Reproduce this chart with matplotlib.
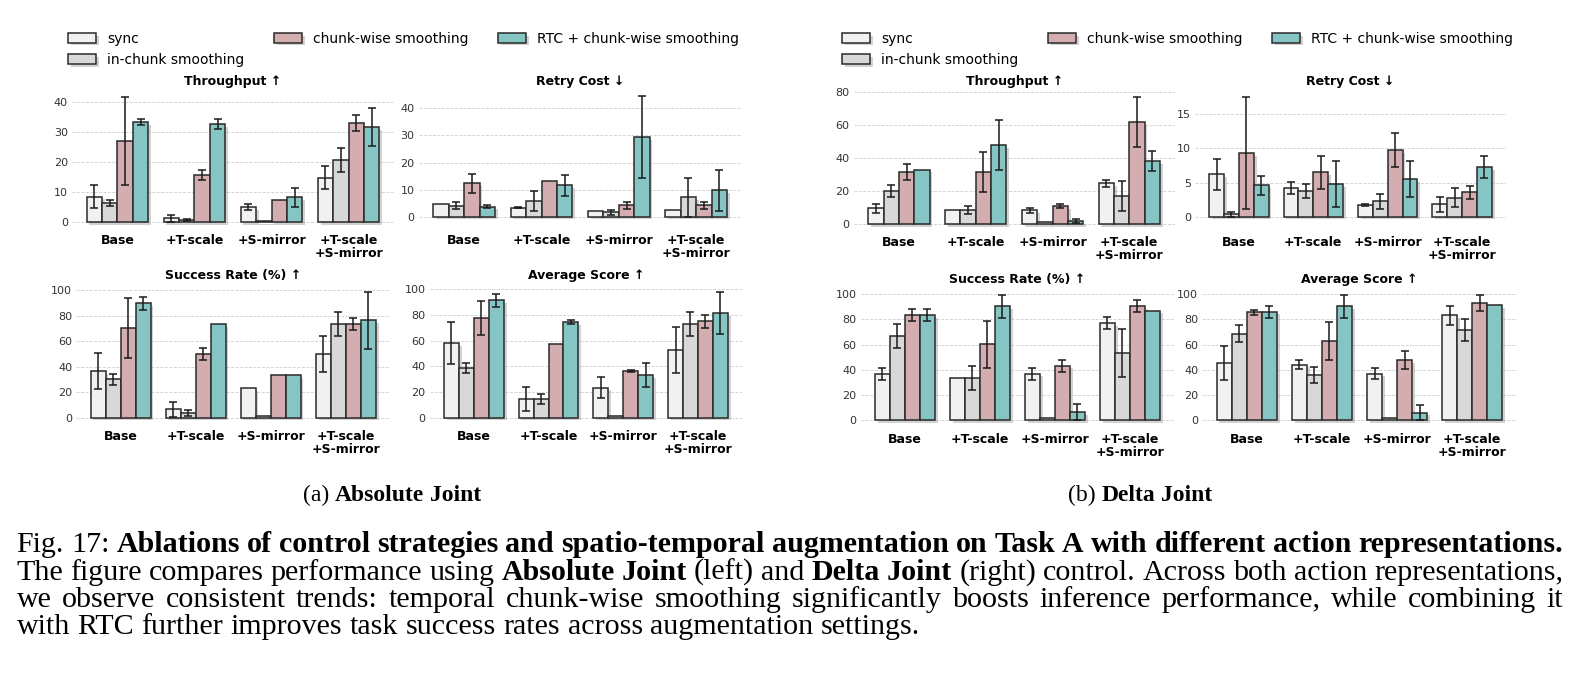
import numpy as np
import matplotlib
matplotlib.use("Agg")
from matplotlib import pyplot as plt
from matplotlib import patheffects as pe
from matplotlib.patches import Patch

W, H = 1574, 683
fig = plt.figure(figsize=(W / 100, H / 100), dpi=100)

groups = ["Base", "+T-scale", "+S-mirror", "+T-scale\n+S-mirror"]
methods = ["sync", "in-chunk smoothing", "chunk-wise smoothing", "RTC + chunk-wise smoothing"]
colors = ["#f1f1f1", "#d8d8d8", "#d3adb0", "#85c5c3"]

# ---- (a) Absolute Joint: rows = methods, cols = groups
abs_thr = [[8.6, 1.3, 5.1, 14.9], [6.6, 0.8, 0.5, 20.8], [27.2, 15.8, 7.6, 33.1], [33.4, 32.8, 8.4, 31.7]]
abs_thr_err = [[3.8, 1.2, 1.0, 3.9], [1.0, 0.4, 0, 3.9], [14.7, 1.8, 0, 2.7], [1.1, 1.6, 3.2, 6.4]]
abs_retry = [[4.6, 3.3, 2.1, 2.5], [4.1, 5.9, 1.7, 7.1], [12.4, 13.0, 4.2, 4.2], [3.7, 11.6, 29.3, 9.7]]
abs_retry_err = [[0, 0.2, 0, 0], [1.2, 3.7, 0.9, 7.1], [3.5, 0, 1.3, 1.3], [0.5, 3.9, 15.1, 7.5]]
abs_succ = [[36.6, 6.8, 23.3, 50.0], [30.1, 3.4, 1.5, 73.3], [70.2, 50.0, 33.3, 73.3], [89.8, 73.3, 33.3, 76.4]]
abs_succ_err = [[14.1, 5.9, 0, 14.1], [4.6, 2.4, 0, 9.5], [23.6, 4.9, 0, 4.7], [4.9, 0, 0, 22.4]]
abs_score = [[58.2, 14.8, 23.4, 53.0], [38.7, 14.8, 1.5, 73.2], [77.7, 57.4, 36.4, 75.1], [91.4, 74.8, 33.2, 81.8]]
abs_score_err = [[16.1, 9.4, 8.4, 18.0], [4.0, 3.9, 0, 9.4], [13.5, 0, 0.8, 4.9], [4.9, 1.7, 9.6, 16.2]]

# ---- (b) Delta Joint
del_thr = [[9.5, 8.3, 8.3, 24.6], [19.8, 8.3, 1.4, 16.9], [31.7, 31.3, 10.9, 61.5], [32.9, 47.8, 1.6, 38.1]]
del_thr_err = [[2.6, 0, 1.5, 2.1], [3.7, 2.3, 0, 8.9], [4.8, 12.0, 1.4, 15.1], [0, 14.9, 1.2, 5.8]]
del_retry = [[6.2, 4.25, 1.7, 1.8], [0.35, 3.8, 2.25, 2.8], [9.3, 6.5, 9.8, 3.6], [4.6, 4.8, 5.5, 7.3]]
del_retry_err = [[2.3, 0.9, 0.2, 1.05], [0.35, 1.0, 1.1, 1.45], [8.2, 2.4, 2.5, 0.95], [1.4, 3.4, 2.6, 1.6]]
del_succ = [[36.9, 33.2, 36.9, 76.8], [66.8, 33.2, 1.6, 53.3], [83.4, 60.2, 43.3, 90.2], [83.4, 90.2, 6.6, 86.8]]
del_succ_err = [[4.7, 0, 4.7, 4.7], [9.5, 9.6, 0, 19.1], [4.7, 18.8, 4.7, 4.7], [4.7, 9.2, 6.0, 0]]
del_score = [[45.4, 44.1, 36.9, 83.1], [68.6, 35.9, 1.6, 71.5], [85.5, 62.8, 47.8, 92.9], [86.0, 90.2, 6.1, 91.0]]
del_score_err = [[13.4, 3.7, 4.2, 7.5], [6.7, 6.0, 0, 8.4], [1.8, 15.0, 7.1, 6.3], [4.7, 9.2, 5.9, 0]]

shadow = [pe.withSimplePatchShadow(offset=(2, -2), shadow_rgbFace="#808080", alpha=0.35)]


def px_axes(left, right, top, bottom):
    return fig.add_axes([left / W, 1 - bottom / H, (right - left) / W, (bottom - top) / H])


def bar_panel(box, zero, scale, yticks, title, title_y, means, errs):
    left, right, top, bottom = box
    ax = px_axes(*box)
    x = np.arange(len(groups))
    w = 0.2
    for i in range(len(methods)):
        pos = x + (i - 1.5) * w
        vals = np.array(means[i])
        e = np.array(errs[i])
        bars = ax.bar(pos, vals, w, color=colors[i], edgecolor="#2a2a2a", linewidth=1.1, zorder=3)
        for b in bars:
            b.set_path_effects(shadow)
        m = e > 0
        ax.errorbar(pos[m], vals[m], yerr=e[m], fmt="none", ecolor="#1a1a1a",
                    elinewidth=1.1, capsize=3, capthick=1.1, zorder=4)
    ax.set_xlim(-0.59, 3.59)
    ax.set_ylim(-(bottom - zero) / scale, (zero - top) / scale)
    ax.set_yticks(yticks)
    ax.set_xticks(x)
    ax.set_xticklabels(groups, fontsize=9, fontweight="bold", linespacing=1.05)
    ax.tick_params(axis="y", length=0, pad=3, labelsize=8, labelcolor="#333333")
    ax.tick_params(axis="x", length=0, pad=4)
    ax.yaxis.grid(True, linestyle="--", color="#d0d0d0", linewidth=0.6)
    ax.set_axisbelow(True)
    for s in ax.spines.values():
        s.set_visible(False)
    fig.text((left + right) / 2 / W, 1 - title_y / H, title, ha="center", va="center",
             fontsize=9, fontweight="bold")
    return ax


# (a)
bar_panel((72, 394, 90, 228), 222.3, 3.0, [0, 10, 20, 30, 40], "Throughput \u2191", 81, abs_thr, abs_thr_err)
bar_panel((418.6, 741.7, 90, 228), 216.7, 2.708, [0, 10, 20, 30, 40], "Retry Cost \u2193", 81, abs_retry, abs_retry_err)
bar_panel((76.4, 390, 286, 424), 417.7, 1.273, [0, 20, 40, 60, 80, 100], "Success Rate (%) \u2191", 276, abs_succ, abs_succ_err)
bar_panel((429.8, 742, 286, 424), 417.7, 1.283, [0, 20, 40, 60, 80, 100], "Average Score \u2191", 276, abs_score, abs_score_err)
# (b)
bar_panel((853.7, 1174.6, 90, 230), 224, 1.654, [0, 20, 40, 60, 80], "Throughput \u2191", 81.7, del_thr, del_thr_err)
bar_panel((1195, 1506, 90, 230), 216.7, 6.83, [0, 5, 10, 15], "Retry Cost \u2193", 81.7, del_retry, del_retry_err)
bar_panel((860.7, 1174, 288, 427), 420.3, 1.263, [0, 20, 40, 60, 80, 100], "Success Rate (%) \u2191", 279, del_succ, del_succ_err)
bar_panel((1202.4, 1516.6, 288, 427), 420.3, 1.263, [0, 20, 40, 60, 80, 100], "Average Score \u2191", 279, del_score, del_score_err)

# legends
for lx in (68, 842):
    handles = [Patch(facecolor=c, edgecolor="#2a2a2a", linewidth=1.1, path_effects=shadow) for c in colors]
    fig.legend(handles, methods, loc="upper left", bbox_to_anchor=(lx / W, 1 - 31.5 / H), ncol=3,
               frameon=False, fontsize=10, borderpad=0, borderaxespad=0, handlelength=2.0,
               handleheight=0.7, handletextpad=0.8, columnspacing=2.15, labelspacing=0.53)

# caption text
serif = "Liberation Serif"
renderer = fig.canvas.get_renderer()


def place_words(words, y, x0, x1=None, size=21.6, center=None):
    items = [fig.text(0, 1 - y / H, s, fontsize=size, fontweight=wt, family=serif, va="baseline", ha="left")
             for s, wt in words]
    widths = [t.get_window_extent(renderer).width for t in items]
    gap = 0.25 * size * 100 / 72
    if x1 is not None:
        gap = (x1 - x0 - sum(widths)) / (len(items) - 1)
    if center is not None:
        x0 = center - (sum(widths) + gap * (len(items) - 1)) / 2
    x = x0
    for t, wd in zip(items, widths):
        t.set_x(x / W)
        x += wd + gap


def split(run_list):
    out = []
    for txt, wt in run_list:
        out += [(s, wt) for s in txt.split()]
    return out


place_words(split([("(a)", "normal"), ("Absolute Joint", "bold")]), 501, 0, size=17, center=392)
place_words(split([("(b)", "normal"), ("Delta Joint", "bold")]), 501, 0, size=17, center=1140)

lines = [
    [("Fig. 17:", "normal"), ("Ablations of control strategies and spatio-temporal augmentation on Task A with different action representations.", "bold")],
    [("The figure compares performance using", "normal"), ("Absolute Joint", "bold"), ("(left) and", "normal"),
     ("Delta Joint", "bold"), ("(right) control. Across both action representations,", "normal")],
    [("we observe consistent trends: temporal chunk-wise smoothing significantly boosts inference performance, while combining it", "normal")],
    [("with RTC further improves task success rates across augmentation settings.", "normal")],
]
baselines = [552, 579.5, 607, 634.5]
for k, (ln, yb) in enumerate(zip(lines, baselines)):
    place_words(split(ln), yb, 16.5, 1563 if k < 3 else None)

fig.savefig("out.png", dpi=100)
